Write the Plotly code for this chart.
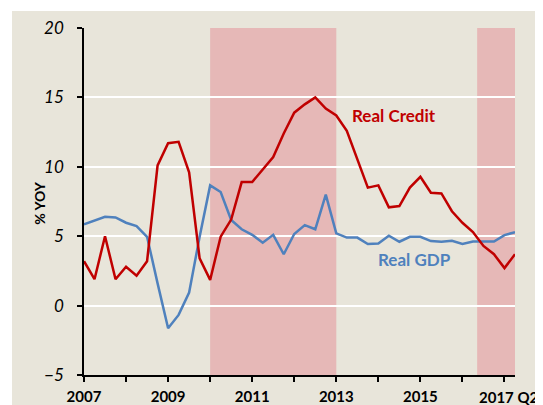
import plotly.graph_objects as go

# Quarterly data, 2007Q1 .. 2017Q2
start_year = 2007
real_credit = [3.2, 1.9, 5.0, 1.9, 2.8, 2.15, 3.2, 10.1, 11.7, 11.8, 9.6, 3.4,
               1.85, 4.97, 6.2, 8.9, 8.9, 9.76, 10.7, 12.4, 13.9, 14.5, 15.0, 14.2,
               13.7, 12.6, 10.6, 8.5, 8.66, 7.08, 7.17, 8.5, 9.28, 8.13, 8.08, 6.8,
               5.97, 5.3, 4.3, 3.7, 2.7, 3.7]
real_gdp = [5.85, 6.1, 6.4, 6.35, 5.97, 5.73, 4.96, 1.6, -1.63, -0.67, 0.94, 4.96,
            8.66, 8.18, 6.17, 5.5, 5.1, 4.53, 5.1, 3.7, 5.16, 5.8, 5.5, 8.0,
            5.2, 4.9, 4.9, 4.44, 4.48, 5.04, 4.6, 4.96, 4.96, 4.65, 4.6, 4.67,
            4.44, 4.62, 4.62, 4.62, 5.08, 5.28]
quarters = [start_year + i / 4 for i in range(len(real_credit))]

shaded_periods = [(2010.0, 2013.0), (2016.35, 2017.25)]
year_ticks = list(range(2007, 2018))
year_labels = [str(y) if (y % 2 == 1 and y < 2017) else "" for y in year_ticks]
last_label = "2017 Q2"
y_ticks = [-5, 0, 5, 10, 15, 20]

BEIGE = "#E8E5DA"
PINK = "#E6B8B7"
RED = "#C00000"
BLUE = "#4F81BD"
FONT = "Lato"

fig = go.Figure()
fig.add_trace(go.Scatter(x=quarters, y=real_gdp, mode="lines",
                         line=dict(color=BLUE, width=2.5), name="Real GDP"))
fig.add_trace(go.Scatter(x=quarters, y=real_credit, mode="lines",
                         line=dict(color=RED, width=2.5), name="Real Credit"))

shapes = [dict(type="rect", xref="paper", yref="paper", x0=-0.167, x1=1.1,
               y0=-0.2, y1=1.049, fillcolor=BEIGE, line_width=0, layer="below")]
for a, b in shaded_periods:
    shapes.append(dict(type="rect", xref="x", yref="y", x0=a, x1=b, y0=-5, y1=20,
                       fillcolor=PINK, line_width=0, layer="below"))

fig.update_layout(
    width=543, height=405,
    margin=dict(l=76, r=36, t=20, b=38),
    paper_bgcolor="white", plot_bgcolor=BEIGE,
    showlegend=False,
    shapes=shapes,
    font=dict(family=FONT, color="black"),
    annotations=[
        dict(text="<b>Real Credit</b>", x=2014.38, y=13.7, xref="x", yref="y",
             showarrow=False, font=dict(size=17, color=RED, family=FONT)),
        dict(text="<b>Real GDP</b>", x=2014.85, y=3.35, xref="x", yref="y",
             showarrow=False, font=dict(size=17, color=BLUE, family=FONT)),
        dict(text="<b>% YOY</b>", x=-0.128, y=0.497, xref="paper", yref="paper",
             textangle=-90, showarrow=False, font=dict(size=14, family=FONT)),
        dict(text="<b>" + last_label + "</b>", x=1.06, y=-0.064, xref="paper", yref="paper",
             xanchor="right", yanchor="middle", showarrow=False,
             font=dict(size=15, family=FONT)),
    ],
)
fig.update_xaxes(range=[2007, 2017.25], tickvals=year_ticks, ticktext=year_labels,
                 ticks="outside", ticklen=5, tickwidth=1.5, tickcolor="black",
                 showline=True, linecolor="black", linewidth=1.5, automargin=False,
                 showgrid=False, zeroline=False, ticklabelstandoff=2,
                 tickfont=dict(size=15, family=FONT, weight="bold"))
fig.update_yaxes(range=[-5, 20], tickvals=y_ticks,
                 ticks="outside", ticklen=5, tickwidth=1.5, tickcolor="black",
                 showline=True, linecolor="black", linewidth=1.5, automargin=False,
                 showgrid=True, gridcolor="white", gridwidth=1.5, zeroline=False,
                 ticklabelstandoff=10,
                 tickfont=dict(size=17, family=FONT, style="italic"))

fig.write_html("out.html")
